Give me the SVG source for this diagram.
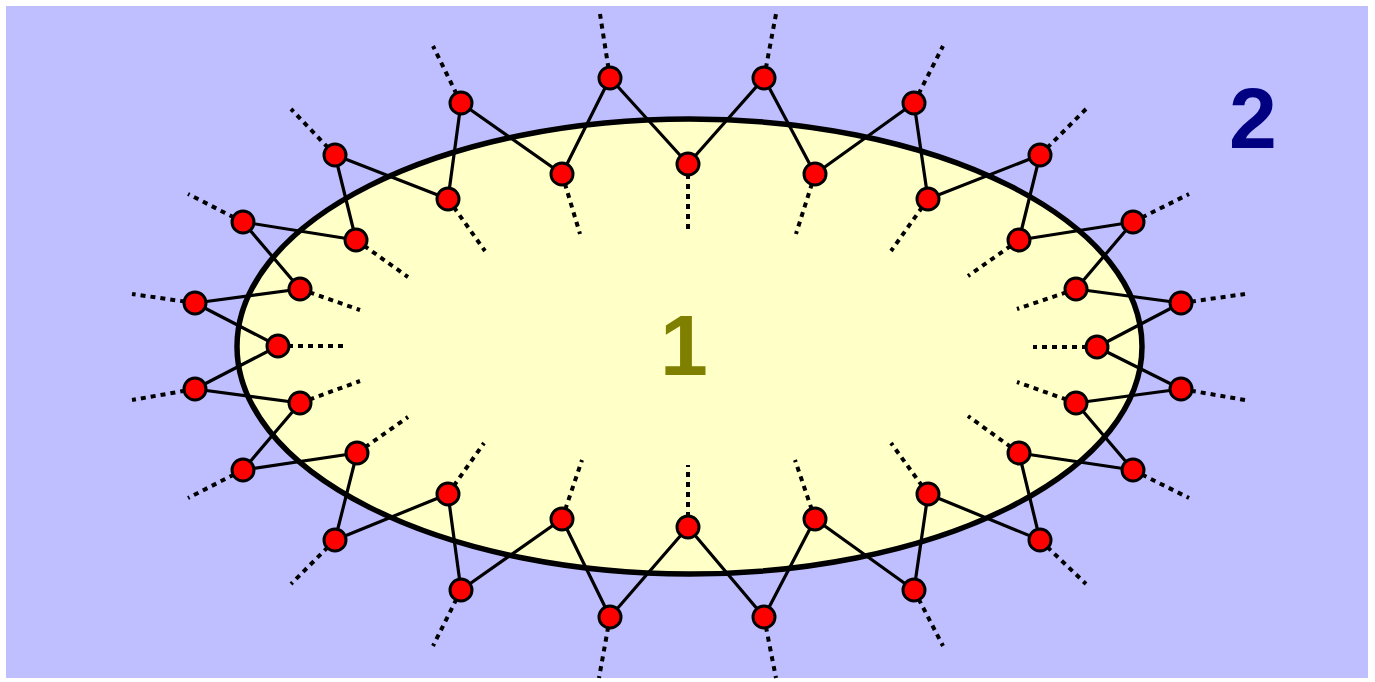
<svg xmlns="http://www.w3.org/2000/svg" width="1375" height="682" viewBox="0 0 1375 682">
<style>
.bg{fill:#bfbfff}
.cell{fill:#ffffc8;stroke:#000;stroke-width:5.5}
.link{stroke:#000;stroke-width:3.2;fill:none;stroke-linejoin:round}
.tail{stroke:#000;stroke-width:4;stroke-dasharray:5 5;fill:none}
.node{fill:#ff0000;stroke:#000;stroke-width:3}
.lbl{font-family:"Liberation Sans",Arial,sans-serif;font-weight:bold;font-size:86px;text-anchor:middle}
</style>
<rect width="1375" height="682" fill="#ffffff"/>
<rect class="bg" x="6" y="6" width="1362" height="672"/>
<ellipse id="region1" class="cell" cx="689.5" cy="346.5" rx="452.5" ry="227.5"/>
<text id="label1" class="lbl" x="684" y="375" fill="#808000">1</text>
<text id="label2" class="lbl" x="1253" y="148" fill="#000080">2</text>
<g id="connectors">
<path class="link" d="M278,346 L195,303 L300,289 L243,222 L356,240 L335,155 L448,199 L461,103 L562,174 L610,78 L688,164 L764,78 L815,174 L914,103 L928,199 L1040,155 L1019,240 L1133,222 L1076,289 L1181,303 L1097,347 L1181,389 L1076,403 L1133,470 L1019,453 L1040,540 L928,494 L914,590 L815,519 L764,617 L688,527 L610,617 L562,519 L461,590 L448,494 L335,540 L357,453 L243,470 L300,403 L195,389 Z"/>
<path class="tail" d="M195,303 L132,294 M243,222 L188,194 M335,155 L291,109 M461,103 L433,46 M610,78 L600,14 M764,78 L776,14 M914,103 L943,46 M1040,155 L1086,109 M1133,222 L1189,194 M1181,303 L1245,294 M1181,389 L1245,400 M1133,470 L1189,498 M1040,540 L1086,584 M914,590 L943,646 M764,617 L776,678 M610,617 L599,678 M461,590 L433,646 M335,540 L291,584 M243,470 L188,498 M195,389 L132,400"/>
<path class="tail" d="M278,346 L343,346 M300,289 L360,310 M356,240 L408,277 M448,199 L485,251 M562,174 L580,234 M688,164 L688,230 M815,174 L796,234 M928,199 L891,251 M1019,240 L968,276 M1076,289 L1017,309 M1097,347 L1033,347 M1076,403 L1017,382 M1019,453 L968,416 M928,494 L891,443 M815,519 L795,460 M688,527 L688,465 M562,519 L582,460 M448,494 L484,443 M357,453 L408,417 M300,403 L360,381"/>
</g>
<g id="o1"><circle class="node" cx="195" cy="303" r="11"/></g>
<g id="o2"><circle class="node" cx="243" cy="222" r="11"/></g>
<g id="o3"><circle class="node" cx="335" cy="155" r="11"/></g>
<g id="o4"><circle class="node" cx="461" cy="103" r="11"/></g>
<g id="o5"><circle class="node" cx="610" cy="78" r="11"/></g>
<g id="o6"><circle class="node" cx="764" cy="78" r="11"/></g>
<g id="o7"><circle class="node" cx="914" cy="103" r="11"/></g>
<g id="o8"><circle class="node" cx="1040" cy="155" r="11"/></g>
<g id="o9"><circle class="node" cx="1133" cy="222" r="11"/></g>
<g id="o10"><circle class="node" cx="1181" cy="303" r="11"/></g>
<g id="o11"><circle class="node" cx="1181" cy="389" r="11"/></g>
<g id="o12"><circle class="node" cx="1133" cy="470" r="11"/></g>
<g id="o13"><circle class="node" cx="1040" cy="540" r="11"/></g>
<g id="o14"><circle class="node" cx="914" cy="590" r="11"/></g>
<g id="o15"><circle class="node" cx="764" cy="617" r="11"/></g>
<g id="o16"><circle class="node" cx="610" cy="617" r="11"/></g>
<g id="o17"><circle class="node" cx="461" cy="590" r="11"/></g>
<g id="o18"><circle class="node" cx="335" cy="540" r="11"/></g>
<g id="o19"><circle class="node" cx="243" cy="470" r="11"/></g>
<g id="o20"><circle class="node" cx="195" cy="389" r="11"/></g>
<g id="i1"><circle class="node" cx="278" cy="346" r="11"/></g>
<g id="i2"><circle class="node" cx="300" cy="289" r="11"/></g>
<g id="i3"><circle class="node" cx="356" cy="240" r="11"/></g>
<g id="i4"><circle class="node" cx="448" cy="199" r="11"/></g>
<g id="i5"><circle class="node" cx="562" cy="174" r="11"/></g>
<g id="i6"><circle class="node" cx="688" cy="164" r="11"/></g>
<g id="i7"><circle class="node" cx="815" cy="174" r="11"/></g>
<g id="i8"><circle class="node" cx="928" cy="199" r="11"/></g>
<g id="i9"><circle class="node" cx="1019" cy="240" r="11"/></g>
<g id="i10"><circle class="node" cx="1076" cy="289" r="11"/></g>
<g id="i11"><circle class="node" cx="1097" cy="347" r="11"/></g>
<g id="i12"><circle class="node" cx="1076" cy="403" r="11"/></g>
<g id="i13"><circle class="node" cx="1019" cy="453" r="11"/></g>
<g id="i14"><circle class="node" cx="928" cy="494" r="11"/></g>
<g id="i15"><circle class="node" cx="815" cy="519" r="11"/></g>
<g id="i16"><circle class="node" cx="688" cy="527" r="11"/></g>
<g id="i17"><circle class="node" cx="562" cy="519" r="11"/></g>
<g id="i18"><circle class="node" cx="448" cy="494" r="11"/></g>
<g id="i19"><circle class="node" cx="357" cy="453" r="11"/></g>
<g id="i20"><circle class="node" cx="300" cy="403" r="11"/></g>
</svg>
